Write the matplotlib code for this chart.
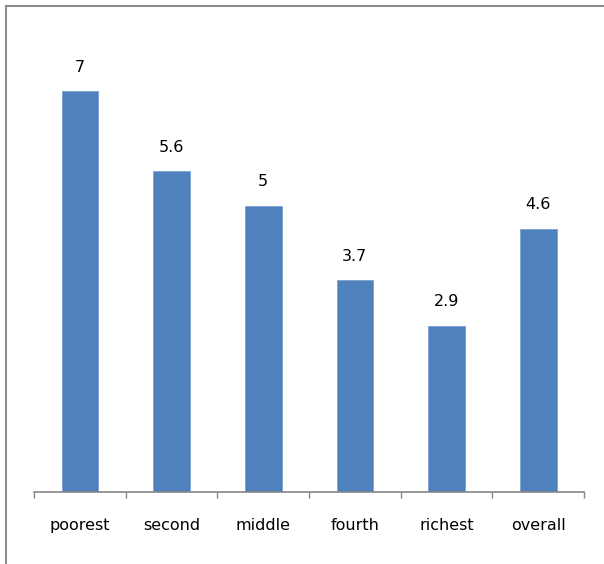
import matplotlib
matplotlib.use("Agg")
import matplotlib.pyplot as plt
from matplotlib.lines import Line2D
import numpy as np

# data
categories = ["poorest", "second", "middle", "fourth", "richest", "overall"]
values = [7, 5.6, 5, 3.7, 2.9, 4.6]
value_labels = ["7", "5.6", "5", "3.7", "2.9", "4.6"]

plt.rcParams['font.family'] = ['DejaVu Sans']

fig = plt.figure(figsize=(6.04, 5.64), dpi=100)
ax = fig.add_axes([0.0563, 0.1277, 0.9106, 0.812])

x = np.arange(len(categories))
ax.bar(x, values, width=0.4, color="#4F81BD", edgecolor="#7DA1D0", linewidth=0.6)

for xi, v, lab in zip(x, values, value_labels):
    ax.annotate(lab, (xi, v), xytext=(0, 12), textcoords="offset points",
                ha="center", va="bottom", fontsize=11.5, color="black")

ax.set_xlim(-0.5, len(categories) - 0.5)
ax.set_ylim(0, 8)

# category labels without ticks, tick marks between categories
ax.set_xticks(x)
ax.set_xticklabels(categories, fontsize=11.5)
ax.tick_params(axis="x", which="major", length=0, pad=19)
ax.set_xticks(np.arange(-0.5, len(categories)), minor=True)
ax.tick_params(axis="x", which="minor", length=4, width=1, color="#868686", direction="out")

ax.set_yticks([])
for side in ["top", "right", "left"]:
    ax.spines[side].set_visible(False)
ax.spines["bottom"].set_color("#868686")
ax.spines["bottom"].set_linewidth(1.2)

# chart area border (only top and left visible, picture is cropped)
fig.add_artist(Line2D([6 / 604, 1.0], [1 - 6 / 564, 1 - 6 / 564],
                      transform=fig.transFigure, color="#8C8C8C", linewidth=1.5))
fig.add_artist(Line2D([6 / 604, 6 / 604], [0, 1 - 6 / 564],
                      transform=fig.transFigure, color="#8C8C8C", linewidth=1.5))

fig.savefig("out.png", dpi=100)
